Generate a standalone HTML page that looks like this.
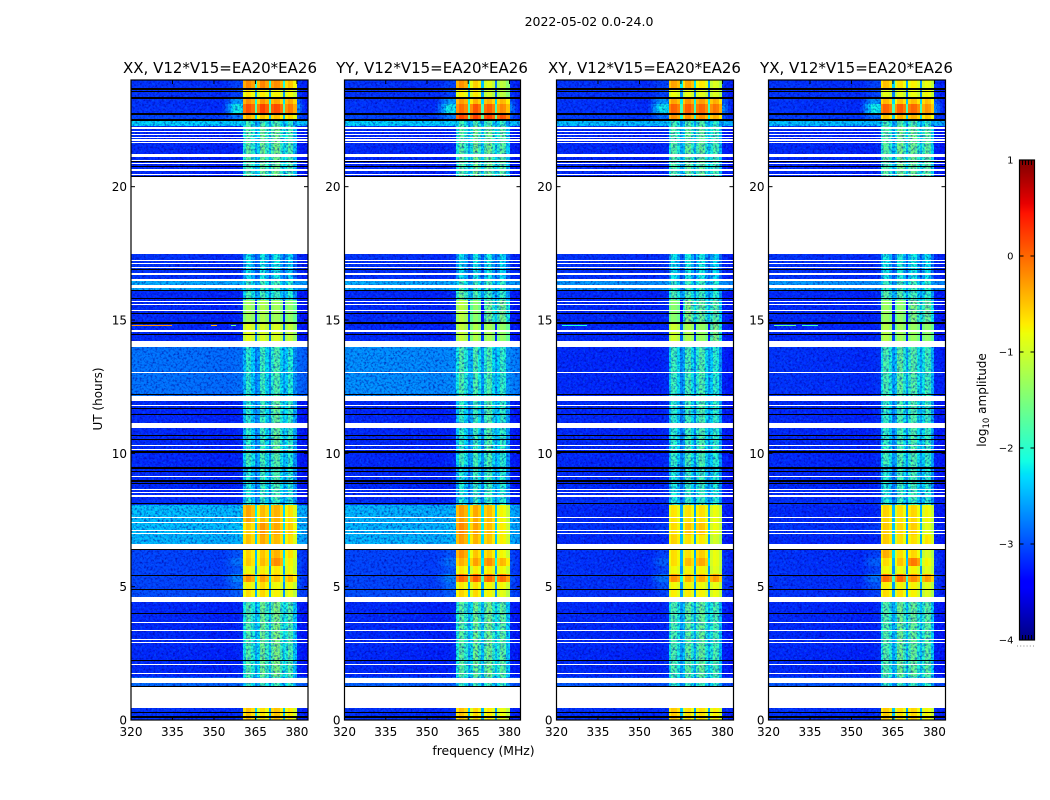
<!DOCTYPE html>
<html lang="en">
<head>
<meta charset="utf-8">
<title>2022-05-02 0.0-24.0</title>
<style>
html,body{margin:0;padding:0;background:#fff;}
svg{display:block;}
text{font-family:"DejaVu Sans","Liberation Sans",sans-serif;fill:#000;}
</style>
</head>
<body>
<svg id="figure" width="1050" height="800" viewBox="0 0 1050 800" xmlns="http://www.w3.org/2000/svg">
  <defs>
    <filter id="grainDark" x="0" y="0" width="100%" height="100%" color-interpolation-filters="sRGB">
      <feTurbulence type="fractalNoise" baseFrequency="0.45" numOctaves="2" seed="7"/>
      <feColorMatrix type="matrix" values="0 0 0 0 0  0 0 0 0 0  0 0 0 0 0.6  2.2 0 0 0 -0.98"/>
    </filter>
    <filter id="grainLight" x="0" y="0" width="100%" height="100%" color-interpolation-filters="sRGB">
      <feTurbulence type="fractalNoise" baseFrequency="0.42" numOctaves="2" seed="23"/>
      <feColorMatrix type="matrix" values="0 0 0 0 0  0 0 0 0 0.42  0 0 0 0 1  0 1.8 0 0 -0.9"/>
    </filter>
  </defs>
  <rect x="0" y="0" width="1050" height="800" fill="#ffffff"/>
  <text x="589" y="26" font-size="12.5" text-anchor="middle">2022-05-02 0.0-24.0</text>
  <g id="panels"></g>
  <text x="220" y="73" font-size="15" text-anchor="middle">XX, V12*V15=EA20*EA26</text>
  <text x="432" y="73" font-size="15" text-anchor="middle">YY, V12*V15=EA20*EA26</text>
  <text x="644.5" y="73" font-size="15" text-anchor="middle">XY, V12*V15=EA20*EA26</text>
  <text x="856.5" y="73" font-size="15" text-anchor="middle">YX, V12*V15=EA20*EA26</text>
  <text x="483.5" y="755" font-size="12.4" text-anchor="middle">frequency (MHz)</text>
  <text x="0" y="0" font-size="12" text-anchor="middle" transform="translate(102,399) rotate(-90)">UT (hours)</text>
  <g id="colorbar"></g>
  <text x="0" y="0" font-size="12" text-anchor="middle" transform="translate(986,400) rotate(-90)">log<tspan font-size="8.5" dy="3">10</tspan><tspan dy="-3"> amplitude</tspan></text>
  <line x1="1017" y1="646" x2="1035" y2="646" stroke="#888888" stroke-width="1" stroke-dasharray="1 2.2"/>
</svg>
<script>
// ---- categories and ticks ----
const xTickLabels = [320, 335, 350, 365, 380];
const yTickLabels = [0, 5, 10, 15, 20];
const colorbarTickLabels = [1, 0, -1, -2, -3, -4];
const panelNames = ['xx', 'yy', 'xy', 'yx'];

// ---- frequency channels (MHz, lower edge), last edge closes the axis ----
const channelMHz = [320,321,322,323,324,325,326,327,328,329,330,331,332,333,334,335,336,337,338,339,340,341,342,343,344,345,346,347,348,349,350,351,352,353,354,355,356,357,358,359,360,
  360.5,361.5,362.5,363.5,364.8,365.6,366.6,367.6,368.6,369.8,370.6,371.7,372.7,373.7,374.8,375.6,376.6,377.6,378.6,380,381,382,383];
const channelEndMHz = 384;
// subband each channel belongs to: -1 = out of band, 0-3 = subband, 9 = gap between subbands
const channelSubband = [-1,-1,-1,-1,-1,-1,-1,-1,-1,-1,-1,-1,-1,-1,-1,-1,-1,-1,-1,-1,-1,-1,-1,-1,-1,-1,-1,-1,-1,-1,-1,-1,-1,-1,-1,-1,-1,-1,-1,-1,-1,
  0,0,0,0,9,1,1,1,1,9,2,2,2,2,9,3,3,3,3,-1,-1,-1,-1];
// spectral ripple of each channel in quiet hours (log10)
const channelRipple = [.02,.03,.02,.03,.02,.02,.03,.01,.02,.02,.01,.01,.02,.01,.01,.02,0,.01,0,0,.01,0,0,-.01,0,0,-.01,0,-.01,-.02,-.02,-.02,-.03,-.02,-.03,-.03,-.02,-.01,0,.02,.05,
  -.16,.14,.1,-.1,-.6,-.28,.14,.18,-.08,-.55,.0,.18,.14,-.14,-.52,-.1,.14,.06,-.3,-.03,-.05,-.08,-.1];
// shoulder just below the band (channel weight)
const channelShoulder = [0,0,0,0,0,0,0,0,0,0,0,0,0,0,0,0,0,0,0,0,0,0,0,0,0,0,0,0,0,0,0,0,0,.1,.3,.55,.8,1,1,.95,.85,0,0,0,0,0,0,0,0,0,0,0,0,0,0,0,0,0,0,0,.5,.3,.1,0];

// ---- time bins (hours, edges) ----
const rowEdgesHours = [0,.45,1.61,4.46,4.91,5.18,5.48,5.78,6.08,6.41,6.94,7.43,8.06,8.25,9.56,10,12,14,14.925,15.75,16.125,16.5,17.475,20.4,22.275,22.46,22.76,23.1,23.3,23.66,24];
// shoulder strength per time bin (log10)
const rowShoulder = [0,0,0,.1,.2,.35,.12,.25,.1,0,.05,0,0,0,0,0,0,0,0,0,0,0,0,0,0,.3,1,.55,.1,.1];

// ---- out-of-band amplitude per time bin, log10 ----
const bgXX = [-3.15,-2.85,-3.2,-3,-3.05,-3.05,-3.05,-3.05,-3.05,-2.45,-2.4,-2.4,-3.15,-3.2,-3.2,-3.2,-2.8,-3.2,-3.2,-3.2,-2.5,-3.15,-3.2,-3.2,-2.3,-3.05,-3.15,-3.15,-3.15,-3.15];
const bgYY = [-3.15,-2.9,-3.2,-3,-3.05,-3.05,-3.05,-3.05,-3.05,-2.45,-2.45,-2.45,-3.15,-3.2,-3.2,-3.2,-2.65,-3.2,-3.2,-3.2,-2.5,-3.15,-3.2,-3.2,-2.3,-3.05,-3.15,-3.15,-3.15,-3.15];
const bgXY = [-3.15,-2.95,-3.2,-3.15,-3.15,-3.15,-3.15,-3.15,-3.15,-3.2,-3.15,-3.2,-3.15,-3.2,-3.2,-3.2,-3.2,-3.2,-3.2,-3.2,-2.6,-3.15,-3.2,-3.2,-2.4,-3.1,-3.15,-3.15,-3.15,-3.15];
const bgYX = [-3.15,-2.95,-3.2,-3.15,-3.15,-3.15,-3.15,-3.15,-3.15,-3.2,-3.15,-3.2,-3.15,-3.2,-3.2,-3.2,-3.15,-3.2,-3.2,-3.2,-2.6,-3.15,-3.2,-3.2,-2.4,-3.1,-3.15,-3.15,-3.15,-3.15];

// ---- in-band amplitude per time bin and subband, log10 ----
const bandXX = [[-.55,-.75,-.6,-.75],[-2.05,-2.05,-2.05,-2.05],[-1.9,-1.8,-1.7,-1.9],[-.7,-.7,-.85,-.9],[-.8,-.7,-.9,-.85],[-.3,-.4,-.6,-.5],[-.85,-.8,-.8,-.85],[-.6,-.55,-.3,-.8],[-.65,-.6,-.5,-.7],[-.55,-.45,-.55,-.7],[-.6,-.35,-.45,-.6],[-.4,-.55,-.5,-.7],[-2.15,-2.15,-2.15,-2.15],[-2.2,-2.1,-2,-2.15],[-2,-2.05,-1.95,-2.15],[-2.15,-2.1,-1.85,-2.05],[-2.15,-2.1,-2,-2.15],[-.95,-1.05,-1.05,-1.15],[-1.35,-1.3,-1.4,-1.45],[-2,-2.05,-2.1,-2.15],[-2.05,-2.05,-2.05,-2.1],[-2.35,-2.35,-2.35,-2.4],[-2.3,-2.3,-2.3,-2.3],[-1.85,-1.8,-1.75,-1.9],[-2,-2,-2,-2.1],[-.45,-.6,-.6,-.65],[.05,.1,.05,-.15],[-.3,-.35,-.45,-.4],[-.75,-.8,-.85,-.85],[-.25,-.25,-.3,-.55]];
const bandYY = [[-.55,-.7,-.8,-.9],[-2.05,-2.05,-2.05,-2.05],[-1.85,-1.8,-1.75,-1.85],[-.65,-.7,-.85,-.95],[-.75,-.75,-.85,-.85],[-.05,-.05,-.1,-.1],[-.75,-.8,-.8,-.85],[-.45,-.4,-.3,-.5],[-.3,-.6,-.65,-.85],[-.35,-.5,-.6,-.8],[-.25,-.4,-.55,-.8],[-.35,-.45,-.55,-.85],[-2.15,-2.15,-2.15,-2.15],[-2.2,-2.1,-2.05,-2.15],[-2,-2.05,-2,-2.15],[-2.1,-2.1,-1.95,-2.1],[-1.9,-2,-2,-2.1],[-1.15,-1.3,-1.35,-1.45],[-1.2,-1.5,-1.8,-1.7],[-1.75,-2,-2.1,-2.1],[-2,-2.05,-2.05,-2.1],[-2.35,-2.35,-2.35,-2.4],[-2.3,-2.3,-2.3,-2.3],[-1.85,-1.75,-1.75,-1.85],[-2,-2,-2,-2.1],[.1,.1,.1,.05],[-.1,0,-.05,-.25],[-.35,-.5,-.5,-.5],[-.8,-.8,-1.1,-1.2],[-.3,-.65,-1,-1.2]];
const bandXY = [[-.6,-.75,-.75,-.8],[-2.1,-2.1,-2.1,-2.1],[-1.95,-1.9,-1.85,-1.95],[-.8,-.8,-.85,-.9],[-.85,-.85,-.9,-.9],[-.3,-.5,-.45,-.35],[-.85,-.85,-.85,-.95],[-.7,-.55,-.45,-.9],[-.7,-.75,-.65,-.9],[-.65,-.75,-.8,-1.05],[-.7,-.6,-.6,-.9],[-.75,-.75,-.75,-.9],[-2.15,-2.15,-2.15,-2.15],[-2.25,-2.15,-2.1,-2.2],[-2.1,-2.05,-2,-2.15],[-2.15,-2.1,-2,-2.1],[-2.05,-2.05,-2,-2.15],[-1.1,-1.3,-1.45,-1.62],[-1.5,-1.65,-1.85,-1.85],[-1.95,-2.05,-2.1,-2.15],[-2.1,-2.1,-2.1,-2.15],[-2.35,-2.35,-2.35,-2.4],[-2.3,-2.3,-2.3,-2.3],[-1.9,-1.85,-1.85,-1.95],[-2,-2,-2,-2.1],[-.3,-.35,-.35,-.45],[-.05,-.05,-.1,-.15],[-.4,-.35,-.4,-.45],[-.9,-.95,-1,-1],[-.4,-.45,-.8,-1]];
const bandYX = [[-.6,-.75,-.7,-.85],[-2.1,-2.1,-2.1,-2.1],[-1.9,-1.8,-1.85,-1.85],[-.7,-.75,-.85,-1],[-.8,-.85,-.85,-.95],[-.1,-.1,-.3,-.35],[-.85,-.9,-.85,-.95],[-.7,-.6,-.2,-.85],[-.45,-.75,-.7,-1],[-.6,-.75,-.75,-.75],[-.6,-.7,-.65,-.95],[-.65,-.75,-.7,-.85],[-2.15,-2.15,-2.15,-2.15],[-2.2,-2.1,-2.05,-2.15],[-2,-2,-2,-2.1],[-2.1,-2.05,-2,-2.05],[-1.95,-1.9,-1.95,-2],[-1.25,-1.4,-1.45,-1.45],[-1.4,-1.5,-1.7,-1.75],[-1.85,-1.95,-2.05,-2.1],[-2.05,-2.05,-2.05,-2.1],[-2.3,-2.3,-2.35,-2.35],[-2.3,-2.3,-2.3,-2.3],[-1.85,-1.75,-1.8,-1.8],[-2,-2,-2,-2.1],[-.55,-.5,-.5,-.6],[-.05,-.05,-.1,-.3],[-.5,-.6,-.55,-.55],[-.95,-1,-.95,-.85],[-.55,-.75,-.85,-.9]];

const bgByPanel = [bgXX, bgYY, bgXY, bgYX];
const bandByPanel = [bandXX, bandYY, bandXY, bandYX];

// ---- narrow-band interference: panel index, hour, start MHz, end MHz, log10 amplitude ----
const rfiPanel = [0,0,0,3,3,2];
const rfiHour = [14.76,14.76,14.76,14.76,14.76,14.76];
const rfiStartMHz = [320,349,356,322,332,322];
const rfiEndMHz = [335,351,358,330,338,331];
const rfiLevel = [-.2,-.4,-1.6,-1.7,-1.9,-2.1];

// ---- flagged time ranges: no data (white) ----
const blankStart = [.44,1.39,1.71,2.06,2.9,2.99,3.34,3.64,4.44,6.42,6.98,7.1,7.39,7.56,8.37,8.5,8.61,9.1,10.11,10.26,10.96,11.76,11.97,13.04,14,14.56,15.38,15.56,15.66,16.21,16.47,16.69,16.95,17.09,17.2,17.475,20.46,20.6,20.87,20.96,21.12,21.64,21.73,21.84,21.95,22.05,22.16];
const blankEnd   = [1.25,1.59,1.75,2.1,2.94,3.03,3.38,3.68,4.62,6.61,7.01,7.14,7.43,7.62,8.45,8.56,8.68,9.15,10.16,10.31,11.15,11.81,12.16,13.06,14.2,14.61,15.39,15.6,15.71,16.31,16.53,16.77,17,17.13,17.25,20.37,20.49,20.66,20.9,21,21.21,21.68,21.77,21.86,21.98,22.09,22.25];
// ---- flagged time ranges: zero amplitude (black) ----
const zeroStart = [.09,.27,1.25,2.21,3.98,4.86,5.4,6.39,8.1,8.85,8.93,9.33,9.4,10,10.5,10.65,11.44,11.66,12.19,14.43,14.86,15.24,15.77,16.09,16.86,20.37,20.74,20.92,22.46,22.69,23.28,23.56,23.63];
const zeroEnd   = [.15,.31,1.28,2.25,4,4.9,5.44,6.41,8.14,8.88,9,9.35,9.5,10.08,10.54,10.69,11.48,11.69,12.23,14.48,14.91,15.27,15.81,16.14,16.9,20.41,20.78,20.96,22.54,22.76,23.38,23.58,23.7];

// ---- scales and layout ----
const panelLeft = [131, 344.5, 556.5, 768.5];
const panelWidths = [177, 176, 177, 177];
const plotTop = 80, plotBottom = 720;
const SVGNS = 'http://www.w3.org/2000/svg';
const freqMin = 320, hourMax = 24, levelMin = -4, levelMax = 1, brightLimit = -1.6;
const xScale = (mhz, p) => panelLeft[p] + (mhz - freqMin) * panelWidths[p] / (channelEndMHz - freqMin);
const yScale = h => plotBottom - h * (plotBottom - plotTop) / hourMax;

function lerpStops(t, stops) {
  for (let i = 1; i < stops.length; i++) {
    if (t <= stops[i][0]) {
      const a = stops[i - 1], b = stops[i];
      return a[1] + (b[1] - a[1]) * (t - a[0]) / (b[0] - a[0]);
    }
  }
  return stops[stops.length - 1][1];
}
function jet(level) {
  const t = Math.min(1, Math.max(0, (level - levelMin) / (levelMax - levelMin)));
  const r = lerpStops(t, [[0,0],[.35,0],[.66,1],[.89,1],[1,.5]]);
  const g = lerpStops(t, [[0,0],[.125,0],[.375,1],[.64,1],[.91,0],[1,0]]);
  const b = lerpStops(t, [[0,.5],[.11,1],[.34,1],[.65,0],[1,0]]);
  return 'rgb(' + Math.round(r * 255) + ',' + Math.round(g * 255) + ',' + Math.round(b * 255) + ')';
}
function svgEl(tag, parent) {
  const el = document.createElementNS(SVGNS, tag);
  parent.appendChild(el);
  return el;
}
function drawLine(parent, x1, y1, x2, y2, width) {
  const l = svgEl('line', parent);
  l.setAttribute('x1', x1);
  l.setAttribute('y1', y1);
  l.setAttribute('x2', x2);
  l.setAttribute('y2', y2);
  l.setAttribute('stroke', '#000');
  l.setAttribute('stroke-width', width);
  return l;
}
function drawText(parent, str, x, y, size, anchor) {
  const t = svgEl('text', parent);
  t.setAttribute('x', x);
  t.setAttribute('y', y);
  t.setAttribute('font-size', size);
  t.setAttribute('text-anchor', anchor);
  t.textContent = str;
  return t;
}
function cellLevel(p, row, ch) {
  const sub = channelSubband[ch];
  const bg = bgByPanel[p][row], bands = bandByPanel[p][row];
  if (sub < 0) {
    const shoulder = rowShoulder[row] * channelShoulder[ch];
    return bg + channelRipple[ch] + shoulder;
  }
  if (sub === 9) {
    const neighbor = bands[channelSubband[ch - 1]];
    return neighbor > brightLimit ? neighbor - 1.8 : neighbor + channelRipple[ch];
  }
  return bands[sub] > brightLimit ? bands[sub] + channelRipple[ch] * .7 : bands[sub] + channelRipple[ch] * 1.5;
}
function isBright(p, row, ch) {
  const sub = channelSubband[ch];
  if (sub < 0) return false;
  const bands = bandByPanel[p][row];
  return (sub === 9 ? bands[channelSubband[ch - 1]] : bands[sub]) > brightLimit;
}
function drawCell(parent, x0, x1, y0, y1, level) {
  const c = svgEl('rect', parent);
  
  
  c.setAttribute('x', Math.round(x0));
  c.setAttribute('y', Math.round(y1));
  c.setAttribute('width', Math.max(1, Math.round(x1) - Math.round(x0)));
  c.setAttribute('height', Math.max(1, Math.round(y0) - Math.round(y1)));
  c.setAttribute('fill', jet(level));
  c.setAttribute('shape-rendering', 'crispEdges');
}
function drawFlag(parent, p, startH, endH, color, name) {
  const r = svgEl('rect', parent);
  
  
  const top = Math.round(yScale(endH));
  r.setAttribute('x', panelLeft[p]);
  r.setAttribute('y', top);
  r.setAttribute('width', panelWidths[p]);
  r.setAttribute('height', Math.max(1, Math.round(yScale(startH)) - top));
  r.setAttribute('fill', color);
  r.setAttribute('shape-rendering', 'crispEdges');
}

// ---- panels ----
const panelsRoot = document.getElementById('panels');
panelNames.forEach((name, p) => {
  const g = svgEl('g', panelsRoot);
  
  

  const clip = svgEl('clipPath', g);
  clip.setAttribute('id', 'clip-' + name);
  const clipRect = svgEl('rect', clip);
  clipRect.setAttribute('x', panelLeft[p]);
  clipRect.setAttribute('y', plotTop);
  clipRect.setAttribute('width', panelWidths[p]);
  clipRect.setAttribute('height', plotBottom - plotTop);

  const plot = svgEl('g', g);
  
  
  plot.setAttribute('clip-path', 'url(#clip-' + name + ')');

  const under = svgEl('g', plot);
  
  
  const weak = svgEl('g', plot);
  
  
  const grain = svgEl('g', plot);
  
  
  grain.setAttribute('opacity', '0.8');
  const over = svgEl('g', plot);
  
  
  const flags = svgEl('g', plot);
  
  

  for (let row = 0; row < rowEdgesHours.length - 1; row++) {
    for (let ch = 0; ch < channelMHz.length; ch++) {
      const next = ch + 1 < channelMHz.length ? channelMHz[ch + 1] : channelEndMHz;
      const layer = isBright(p, row, ch) ? over : (channelSubband[ch] >= 0 ? weak : under);
      drawCell(layer,
        xScale(channelMHz[ch], p), xScale(next, p),
        yScale(rowEdgesHours[row]), yScale(rowEdgesHours[row + 1]),
        cellLevel(p, row, ch));
    }
  }

  ['grainDark', 'grainLight'].forEach(id => {
    const r = svgEl('rect', grain);
    
    
    r.setAttribute('x', panelLeft[p]);
    r.setAttribute('y', plotTop);
    r.setAttribute('width', panelWidths[p]);
    r.setAttribute('height', plotBottom - plotTop);
    r.setAttribute('filter', 'url(#' + id + ')');
  });

  rfiPanel.forEach((rp, i) => {
    if (rp !== p) return;
    const h = rfiHour[i];
    drawCell(over, xScale(rfiStartMHz[i], p), xScale(rfiEndMHz[i], p), yScale(h), yScale(h) - 1.4, rfiLevel[i]);
  });

  blankStart.forEach((s, i) => drawFlag(flags, p, s, blankEnd[i], '#ffffff', 'blank-flag'));
  zeroStart.forEach((s, i) => drawFlag(flags, p, s, zeroEnd[i], '#000000', 'zero-flag'));

  const axes = svgEl('g', g);
  
  

  const left = panelLeft[p], right = left + panelWidths[p];
  xTickLabels.forEach(v => {
    const x = xScale(v, p);
    const top = drawLine(axes, x, plotTop, x, plotTop + 4, 1);
    
    
    const bot = drawLine(axes, x, plotBottom, x, plotBottom - 4, 1);
    
    
    const label = drawText(axes, String(v), x, 736, 12, 'middle');
    
    
  });
  yTickLabels.forEach(v => {
    const y = yScale(v);
    const l = drawLine(axes, left, y, left + 4, y, 1);
    
    
    const r = drawLine(axes, right, y, right - 4, y, 1);
    
    
    const label = drawText(axes, String(v), left - 4, y + 4.5, 12, 'end');
    
    
  });

  const frame = svgEl('rect', axes);
  
  
  frame.setAttribute('x', left);
  frame.setAttribute('y', plotTop);
  frame.setAttribute('width', panelWidths[p]);
  frame.setAttribute('height', plotBottom - plotTop);
  frame.setAttribute('fill', 'none');
  frame.setAttribute('stroke', '#000');
  frame.setAttribute('stroke-width', 1.2);
});

// ---- colorbar ----
const cbRoot = document.getElementById('colorbar');
const cbLeft = 1019.5, cbWidth = 15, cbTop = 160, cbBottom = 640;
const cbY = level => cbBottom - (level - levelMin) * (cbBottom - cbTop) / (levelMax - levelMin);
const cbSteps = 240;
for (let i = 0; i < cbSteps; i++) {
  const lv = levelMin + (i + .5) * (levelMax - levelMin) / cbSteps;
  const y1 = cbY(levelMin + (i + 1) * (levelMax - levelMin) / cbSteps);
  const y0 = cbY(levelMin + i * (levelMax - levelMin) / cbSteps);
  const s = svgEl('rect', cbRoot);
  
  
  s.setAttribute('x', cbLeft);
  s.setAttribute('y', y1);
  s.setAttribute('width', cbWidth);
  s.setAttribute('height', y0 - y1 + .5);
  s.setAttribute('fill', jet(lv));
}
colorbarTickLabels.forEach(v => {
  const y = cbY(v);
  const l = drawLine(cbRoot, cbLeft, y, cbLeft + 4, y, 1);
  
  
  const r = drawLine(cbRoot, cbLeft + cbWidth, y, cbLeft + cbWidth - 4, y, 1);
  
  
  const label = drawText(cbRoot, String(v).replace('-', '\u2212'), cbLeft - 6, y + 3.5, 10, 'end');
  
  
});
[1, 2, 3, 4].forEach(k => {
  const x = cbLeft + k * cbWidth / 5;
  const a = drawLine(cbRoot, x, cbTop, x, cbTop + 5, 1);
  
  
  const b = drawLine(cbRoot, x, cbBottom, x, cbBottom - 5, 1);
  
  
});
const cbFrame = svgEl('rect', cbRoot);


cbFrame.setAttribute('x', cbLeft);
cbFrame.setAttribute('y', cbTop);
cbFrame.setAttribute('width', cbWidth);
cbFrame.setAttribute('height', cbBottom - cbTop);
cbFrame.setAttribute('fill', 'none');
cbFrame.setAttribute('stroke', '#000');
cbFrame.setAttribute('stroke-width', 1.2);
</script>
</body>
</html>
